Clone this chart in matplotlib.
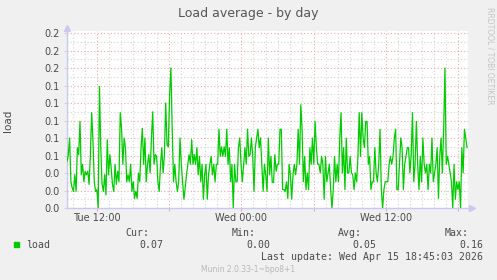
import numpy as np
import matplotlib.pyplot as plt
from matplotlib.ticker import MultipleLocator, FormatStrFormatter

# load average samples, read left to right off the graph
load = [
    # Tue ~09:30 - 15:00
    0.053, 0.061, 0.080, 0.030, 0.023, 0.019, 0.038, 0.019, 0.069, 0.061,
    0.099, 0.038, 0.050, 0.030, 0.042, 0.038, 0.042, 0.027, 0.061, 0.109,
    0.076, 0.030, 0.019, 0.021, 0.000, 0.139, 0.069, 0.027, 0.019, 0.038,
    0.015, 0.078, 0.038, 0.061, 0.046, 0.027, 0.019, 0.050, 0.027, 0.042,
    0.030, 0.109, 0.091, 0.050, 0.080, 0.069, 0.030, 0.038, 0.030, 0.050,
    0.019, 0.030,
    # Tue 15:00 - 20:30
    0.011, 0.019, 0.011, 0.040, 0.030, 0.069, 0.091, 0.050, 0.080, 0.030,
    0.050, 0.061, 0.040, 0.080, 0.110, 0.050, 0.061, 0.059, 0.030, 0.019,
    0.050, 0.069, 0.040, 0.061, 0.120, 0.072, 0.070, 0.130, 0.160, 0.091,
    0.030, 0.050, 0.030, 0.019, 0.030, 0.080, 0.050, 0.030, 0.010, 0.023,
    0.038, 0.050, 0.061, 0.050, 0.078, 0.050, 0.061, 0.050, 0.069, 0.038,
    0.059, 0.030, 0.050, 0.010, 0.038,
    # Tue 20:30 - Wed 02:00
    0.050, 0.010, 0.038, 0.050, 0.059, 0.038, 0.050, 0.030, 0.050, 0.050,
    0.090, 0.059, 0.070, 0.059, 0.070, 0.059, 0.090, 0.050, 0.069, 0.030,
    0.050, 0.000, 0.050, 0.030, 0.030, 0.069, 0.080, 0.050, 0.030, 0.050,
    0.069, 0.050, 0.090, 0.059, 0.061, 0.080, 0.059, 0.019, 0.069, 0.080,
    0.090, 0.069, 0.080, 0.050, 0.019, 0.050, 0.038, 0.019, 0.080, 0.038,
    0.059, 0.030, 0.029,
    # Wed 02:00 - 07:30
    0.061, 0.042, 0.050, 0.050, 0.090, 0.090, 0.021, 0.021, 0.019, 0.030,
    0.011, 0.050, 0.038, 0.010, 0.038, 0.050, 0.038, 0.050, 0.090, 0.050,
    0.118, 0.090, 0.030, 0.059, 0.021, 0.040, 0.021, 0.069, 0.050, 0.080,
    0.050, 0.099, 0.069, 0.050, 0.050, 0.040, 0.059, 0.050, 0.010, 0.059,
    0.030, 0.040, 0.050, 0.021, 0.000, 0.021, 0.059, 0.030, 0.050, 0.030,
    0.080, 0.109,
    # Wed 07:30 - 13:00
    0.040, 0.069, 0.021, 0.080, 0.040, 0.040, 0.059, 0.040, 0.038, 0.021,
    0.040, 0.030, 0.059, 0.109, 0.059, 0.109, 0.080, 0.069, 0.099, 0.099,
    0.050, 0.059, 0.021, 0.030, 0.030, 0.069, 0.040, 0.030, 0.050, 0.090,
    0.021, 0.000, 0.021, 0.030, 0.030, 0.030, 0.050, 0.059, 0.050, 0.059,
    0.080, 0.090, 0.021, 0.021, 0.050, 0.080, 0.069, 0.021, 0.050, 0.059,
    0.069,
    # Wed 13:00 - 18:45
    0.069, 0.040, 0.061, 0.109, 0.030, 0.050, 0.099, 0.050, 0.021, 0.059,
    0.030, 0.080, 0.050, 0.040, 0.050, 0.021, 0.050, 0.040, 0.080, 0.030,
    0.040, 0.050, 0.069, 0.011, 0.059, 0.080, 0.040, 0.090, 0.160, 0.050,
    0.059, 0.050, 0.040, 0.030, 0.000, 0.050, 0.010, 0.030, 0.021, 0.030,
    0.000, 0.069, 0.040, 0.090, 0.080, 0.069,
]

# time in hours since Tue 00:00
t_first = 9.5
t_last = 42.75
x_range = (9.5, 42.83)
tick_hours = [12, 24, 36]
tick_labels = ["Tue 12:00", "Wed 00:00", "Wed 12:00"]

stat_names = ["Cur:", "Min:", "Avg:", "Max:"]
stat_values = ["0.07", "0.00", "0.05", "0.16"]
last_update = "Last update: Wed Apr 15 18:45:03 2026"

BG = "#F0F0F0"
TXT = "#4a4a4a"
GREEN = "#00CC00"
MAJOR = "#F0A8A8"
MINOR = "#D4D4D4"
AXIS = "#C8C8F0"

hours = np.linspace(t_first, t_last, len(load))

W, H = 497, 280
fig = plt.figure(figsize=(W / 100, H / 100), dpi=100, facecolor=BG)
ax = fig.add_axes([67 / W, 1 - 208 / H, 401 / W, 177 / H])
ax.set_facecolor("white")

ax.plot(hours, load, color=GREEN, lw=0.9, zorder=3)

ax.set_xlim(*x_range)
ax.set_ylim(0, 0.2023)

ax.xaxis.set_minor_locator(MultipleLocator(1))
ax.yaxis.set_major_locator(MultipleLocator(0.02))
ax.yaxis.set_minor_locator(MultipleLocator(0.01))
ax.yaxis.set_major_formatter(FormatStrFormatter("%.1f"))

ax.grid(which="minor", color=MINOR, ls=(0, (1, 2)), lw=0.8, zorder=1)
ax.grid(which="major", color=MAJOR, ls=(0, (1, 2)), lw=0.8, zorder=2)

# major lines every 6 h, only every other one carries a label
major_hours = list(np.arange(12, 43, 6))
ax.set_xticks(major_hours)
ax.set_xticklabels([tick_labels[tick_hours.index(h)] if h in tick_hours else ""
                    for h in major_hours])

ax.tick_params(axis="both", which="major", labelsize=7, labelcolor=TXT,
               length=2, width=0.8)
ax.tick_params(axis="x", which="major", color=MAJOR, direction="out", pad=1.5)
ax.tick_params(axis="y", which="major", color=MINOR, direction="out", pad=3)
ax.tick_params(axis="both", which="minor", length=0)

for side in ["top", "right"]:
    ax.spines[side].set_visible(False)
for side in ["left", "bottom"]:
    ax.spines[side].set_color(AXIS)
    ax.spines[side].set_linewidth(1)

# axis arrows
ax.plot([1.01], [0], marker=">", ms=5, color=AXIS, transform=ax.transAxes, clip_on=False)
ax.plot([0], [1.015], marker="^", ms=5, color=AXIS, transform=ax.transAxes, clip_on=False)

fig.text(248 / W, 1 - 13 / H, "Load average - by day", ha="center", va="center",
         fontsize=9, color="#555555")
fig.text(8 / W, 1 - 121 / H, "load", rotation=90, ha="center", va="center",
         fontsize=7.5, color=TXT)
fig.text(490 / W, 1 - 56 / H, "RRDTOOL / TOBI OETIKER", rotation=270, ha="center",
         va="center", fontsize=5.5, color="#C4C4C4")

# legend block
mono = dict(family="DejaVu Sans Mono", fontsize=7.1, color=TXT)
fig.patches.append(plt.Rectangle((14 / W, 1 - 247 / H), 5 / W, 5 / H,
                                 transform=fig.transFigure, color=GREEN))
fig.text(26 / W, 1 - 245 / H, "load", ha="left", va="center", **mono)
name_right = [149, 256, 362, 469]
value_right = [163, 270, 376, 483]
for name, nx in zip(stat_names, name_right):
    fig.text(nx / W, 1 - 233 / H, name, ha="right", va="center", **mono)
for val, vx in zip(stat_values, value_right):
    fig.text(vx / W, 1 - 245 / H, val, ha="right", va="center", **mono)
fig.text(483 / W, 1 - 257 / H, last_update, ha="right", va="center", **mono)
fig.text(248 / W, 1 - 269 / H, "Munin 2.0.33-1~bpo8+1", ha="center", va="center",
         fontsize=5.5, color="#B8B8B8")

fig.savefig("out.png", dpi=100, facecolor=BG)
